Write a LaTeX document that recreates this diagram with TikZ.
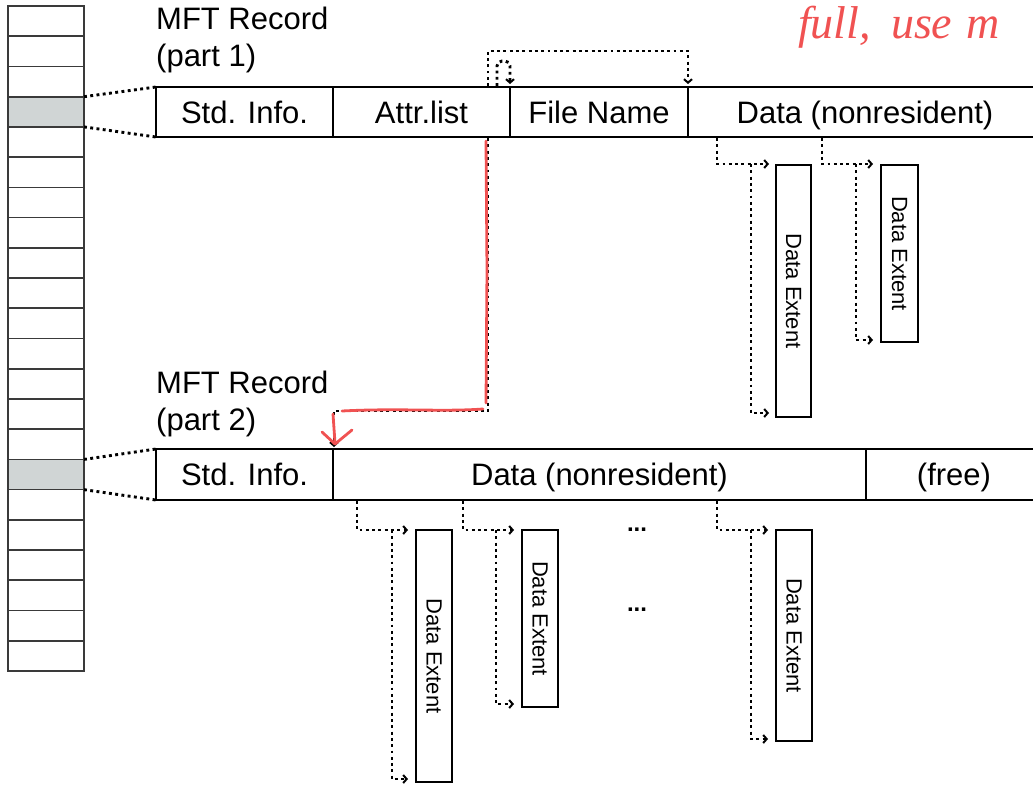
\documentclass[tikz,border=0pt]{standalone}
\usepackage{fontspec}
\setmainfont{Liberation Sans}
\newfontfamily\handfont{Liberation Serif}
\usetikzlibrary{arrows.meta}
\definecolor{cellgray}{HTML}{D0D5D5}
\definecolor{annot}{HTML}{F05252}
\definecolor{colline}{HTML}{3A3A3A}
\begin{document}
\begin{tikzpicture}[x=1pt,y=-1pt,
  cell/.style={draw=colline, line width=1.7pt, minimum width=76pt, minimum height=30.23pt, inner sep=0pt, outer sep=0pt, anchor=north west},
  fld/.style={draw=black, line width=1.7pt, inner sep=0pt, outer sep=0pt, text height=25pt, text depth=3pt, font=\fontsize{31}{37}\selectfont, anchor=north west},
  lbl/.style={anchor=base west, inner sep=0pt, font=\fontsize{31}{37}\selectfont},
  ext/.style={draw=black, line width=2.4pt, rotate=-90, inner sep=0pt, font=\fontsize{22}{26}\selectfont},
  dotc/.style={line width=2.9pt, dash pattern=on 2.9pt off 3.4pt},
  tip/.style={-{Straight Barb[length=3.5pt,width=8pt,line width=2pt]}},
  red/.style={draw=annot, line width=2.8pt, line cap=round, line join=round}
]
\useasboundingbox (0,0) rectangle (1033,787);

% MFT column
\foreach \i in {0,...,21}{
  \node[cell] (c\i) at (8,{6+30.227*\i}) {};
}
\fill[cellgray] (c3.north west) rectangle (c3.south east);
\fill[cellgray] (c15.north west) rectangle (c15.south east);
\draw[colline, line width=1.7pt] (c3.north west) rectangle (c3.south east);
\draw[colline, line width=1.7pt] (c15.north west) rectangle (c15.south east);
\draw[colline, line width=2.8pt] (c0.north west) rectangle (c21.south east);

% Labels
\node[lbl] (l1a) at (156,29) {MFT Record};
\node[lbl] (l1b) at (156,66) {(part 1)};
\node[lbl] (l2a) at (156,393) {MFT Record};
\node[lbl] (l2b) at (156,430) {(part 2)};

% Record part 1
\node[fld, minimum width=177pt, minimum height=50pt] (s1) at (156,87) {Std. Info.};
\node[fld, minimum width=177pt, minimum height=50pt] (a1) at (333,87) {Attr.list};
\node[fld, minimum width=178pt, minimum height=50pt] (f1) at (510,87) {File Name};
\node[fld, minimum width=354pt, minimum height=50pt] (d1) at (688,87) {Data (nonresident)};
\draw[line width=2.8pt] (s1.north west) rectangle (d1.south east);

% Record part 2
\node[fld, minimum width=177pt, minimum height=51pt] (s2) at (156,449) {Std. Info.};
\node[fld, minimum width=533pt, minimum height=51pt] (d2) at (333,449) {Data (nonresident)};
\node[fld, minimum width=176pt, minimum height=51pt] (fr2) at (866,449) {(free)};
\draw[line width=2.8pt] (s2.north west) rectangle (fr2.south east);

% column to records
\draw[dotc] (c3.north east) -- (s1.north west);
\draw[dotc] (c3.south east) -- (s1.south west);
\draw[dotc] (c15.north east) -- (s2.north west);
\draw[dotc] (c15.south east) -- (s2.south west);

% attribute list pointers
\draw[dotc,tip] (488,86) -- (488,51) -- (688,51) -- (688,84);
\draw[dotc,tip,rounded corners=5pt] (497,86) -- (497,61) -- (510,61) -- (510,84);
\draw[dotc,tip] (488,138) -- (488,411) -- (334,411) -- (334,447);

% data extents part 1
\node[ext, minimum width=252pt, minimum height=35pt] (e1) at (793.5,291) {Data Extent};
\node[ext, minimum width=177pt, minimum height=37pt] (e2) at (899.5,253.5) {Data Extent};
\draw[dotc,tip] (717,138) |- (769,164);
\draw[dotc,tip] (751,164) |- (769,413);
\draw[dotc,tip] (822,138) |- (873,164);
\draw[dotc,tip] (856,164) |- (873,340);

% data extents part 2
\node[ext, minimum width=252pt, minimum height=36pt] (e3) at (434,656) {Data Extent};
\node[ext, minimum width=177pt, minimum height=36pt] (e4) at (540,618.5) {Data Extent};
\node[ext, minimum width=211pt, minimum height=36pt] (e5) at (794,635.5) {Data Extent};
\draw[dotc,tip] (357,501) |- (408,530);
\draw[dotc,tip] (392,530) |- (408,779);
\draw[dotc,tip] (463,501) |- (514,530);
\draw[dotc,tip] (496,530) |- (514,704);
\draw[dotc,tip] (717,501) |- (768,530);
\draw[dotc,tip] (751,530) |- (768,739);

\node[anchor=base, inner sep=0pt, font=\bfseries\fontsize{24}{28}\selectfont] (dots1) at (637,531) {...};
\node[anchor=base, inner sep=0pt, font=\bfseries\fontsize{24}{28}\selectfont] (dots2) at (637,611) {...};

% red annotations
\draw[red] (486,141) -- (487,270) -- (486,403);
\draw[red] (342,411) .. controls (400,408) and (440,412) .. (483,409);
\draw[red] (333,414) -- (335,443);
\draw[red] (322,432) -- (335,444) -- (352,430);
\node[anchor=base west, inner sep=0pt, text=annot, font=\handfont\itshape\fontsize{46}{50}\selectfont] (hand) at (798,38) {full,\hspace{20pt}use\hspace{14pt}m};
\end{tikzpicture}
\end{document}
